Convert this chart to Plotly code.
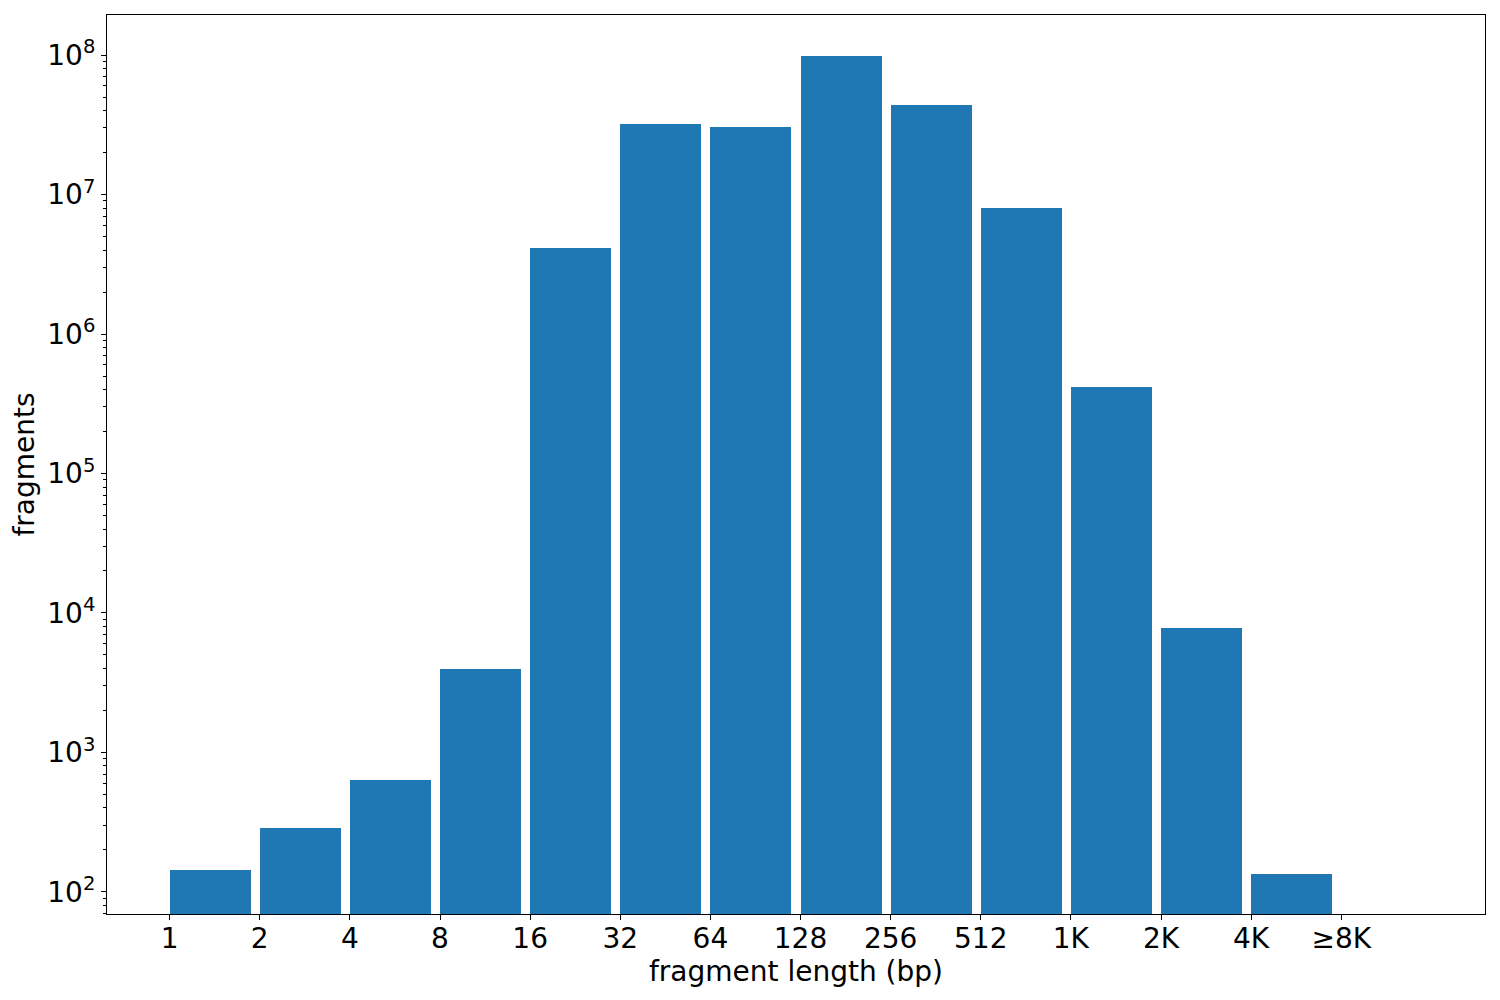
import plotly.graph_objects as go

labels = ["1", "2", "4", "8", "16", "32", "64", "128", "256", "512", "1K", "2K", "4K", "≥8K"]
counts = [144, 288, 637, 3985, 4.12e6, 3.2e7, 3.04e7, 9.84e7, 4.37e7, 7.98e6, 4.14e5, 7852, 135, 0]
ytick_vals = [1e2, 1e3, 1e4, 1e5, 1e6, 1e7, 1e8]
ytick_text = ["10<sup>2</sup>", "10<sup>3</sup>", "10<sup>4</sup>", "10<sup>5</sup>",
              "10<sup>6</sup>", "10<sup>7</sup>", "10<sup>8</sup>"]

pos = list(range(len(labels)))
bar_width = 0.9
centers = [p + bar_width / 2 for p in pos]

fig = go.Figure()
fig.add_trace(go.Bar(
    x=centers, y=counts, width=bar_width,
    marker=dict(color="#1f77b4", line=dict(width=0)),
))

xmin = -0.05 * (pos[-1] + bar_width)
xmax = (pos[-1] + bar_width) * 1.05

fig.update_layout(
    width=1500, height=1000,
    margin=dict(l=99, r=23, t=7, b=94),
    paper_bgcolor="white", plot_bgcolor="white",
    font=dict(family="DejaVu Sans", size=28, color="black"),
    showlegend=False,
    bargap=0,
)
fig.update_xaxes(
    range=[xmin, xmax],
    tickmode="array", tickvals=pos, ticktext=labels,
    ticks="outside", ticklen=5, tickwidth=1, tickcolor="black",
    ticklabelstandoff=-6,
    showline=True, linecolor="black", linewidth=1, mirror=True,
    showgrid=False, zeroline=False,
    title=dict(text="fragment length (bp)", standoff=0, font=dict(size=28)),
    tickfont=dict(size=28),
)
fig.update_yaxes(
    type="log",
    range=[1.842, 8.287],
    tickmode="array", tickvals=ytick_vals, ticktext=ytick_text,
    ticks="outside", ticklen=5, tickwidth=1, tickcolor="black",
    minor=dict(ticks="outside", ticklen=3, tickcolor="black", dtick="D1", showgrid=False),
    showline=True, linecolor="black", linewidth=1, mirror=True,
    showgrid=False, zeroline=False,
    title=dict(text="fragments", standoff=10, font=dict(size=28)),
    tickfont=dict(size=28),
)

fig.write_html("out.html")
